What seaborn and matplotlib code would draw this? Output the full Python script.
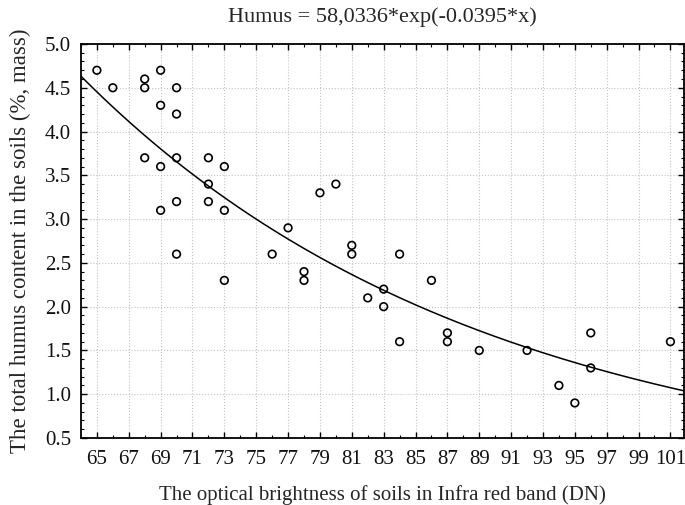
import numpy as np
import pandas as pd
import matplotlib
matplotlib.use("Agg")
import matplotlib.pyplot as plt
import seaborn as sns
from matplotlib.ticker import MultipleLocator

# Data
brightness = [65, 66, 68, 68, 68, 69, 69, 69, 69, 70, 70, 70, 70, 70,
              72, 72, 72, 73, 73, 73, 76, 77, 78, 78, 79, 80, 81, 81,
              82, 83, 83, 84, 84, 86, 87, 87, 89, 92, 94, 95, 96, 96, 101]
humus = [4.7, 4.5, 4.6, 4.5, 3.7, 4.7, 4.3, 3.6, 3.1, 4.5, 4.2, 3.7, 3.2, 2.6,
         3.7, 3.4, 3.2, 3.6, 3.1, 2.3, 2.6, 2.9, 2.4, 2.3, 3.3, 3.4, 2.7, 2.6,
         2.1, 2.2, 2.0, 2.6, 1.6, 2.3, 1.7, 1.6, 1.5, 1.5, 1.1, 0.9, 1.7, 1.3, 1.6]
fit_a = 58.0336
fit_b = -0.0395
x_ticks = list(range(65, 102, 2))
y_ticks = [0.5, 1.0, 1.5, 2.0, 2.5, 3.0, 3.5, 4.0, 4.5, 5.0]

sns.set_style("white")
plt.rcParams['font.family'] = ['Liberation Serif', 'DejaVu Serif']

fig = plt.figure(figsize=(6.85, 5.05), dpi=100)
ax = fig.add_axes([0.1182, 0.1327, 0.8803, 0.7802])

xmin, xmax = 64, 101.85
xf = np.linspace(xmin, xmax, 300)
fit_df = pd.DataFrame({"x": xf, "y": fit_a * np.exp(fit_b * xf)})
sns.lineplot(data=fit_df, x="x", y="y", ax=ax, color="black", lw=1.1, zorder=3)

df = pd.DataFrame({"x": brightness, "y": humus})
sns.scatterplot(data=df, x="x", y="y", ax=ax, marker="o", s=30,
                facecolor="none", edgecolor="black", linewidth=1.2, zorder=4)

ax.set_xlim(xmin, xmax)
ax.set_ylim(0.5, 5.0)
ax.set_xticks(x_ticks)
ax.set_xticklabels([str(t) for t in x_ticks])
ax.set_yticks(y_ticks)
ax.set_yticklabels([f"{t:.1f}" for t in y_ticks])
ax.xaxis.set_minor_locator(MultipleLocator(1))
ax.yaxis.set_minor_locator(MultipleLocator(0.1))
ax.tick_params(which="both", direction="in", top=True, right=True,
               bottom=True, left=True, color="black")
ax.tick_params(which="major", length=4, width=1, labelsize=15, pad=7,
               labelcolor="#111111")
ax.tick_params(axis="x", which="major", pad=9)
ax.tick_params(which="minor", length=2.5, width=0.8)
ax.grid(True, which="major", linestyle=":", color="#c4c4c4", lw=0.8)
for sp in ax.spines.values():
    sp.set_color("black")
    sp.set_linewidth(1.3)

ax.set_xlabel("The optical brightness of soils in Infra red band (DN)",
              fontsize=15, labelpad=11)
ax.set_ylabel("The total humus content in the soils (%, mass)",
              fontsize=16.5, labelpad=10)
ax.set_title("Humus = 58,0336*exp(-0.0395*x)", fontsize=16, pad=16)

fig.savefig("out.png", dpi=100)
